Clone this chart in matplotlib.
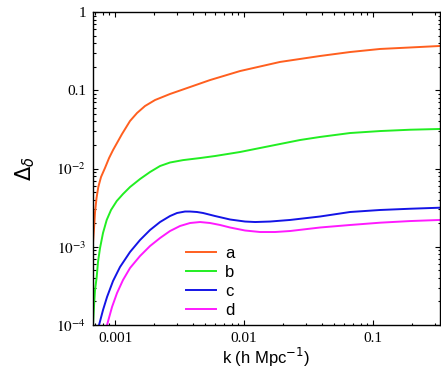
import numpy as np
import matplotlib
matplotlib.use("Agg")
import matplotlib.pyplot as plt
from matplotlib.ticker import FixedLocator, FixedFormatter, LogLocator, NullFormatter

plt.rcParams['mathtext.fontset'] = 'stix'

# k (h/Mpc) and Delta_delta
k_a = [6.75e-4, 6.88e-4, 7.0e-4, 7.19e-4, 7.42e-4, 7.79e-4, 8.37e-4, 8.99e-4, 9.65e-4,
       1.036e-3, 1.133e-3, 1.307e-3, 1.481e-3, 1.708e-3, 2.042e-3, 2.669e-3, 3.815e-3,
       5.45e-3, 9.31e-3, 0.019, 0.0388, 0.0663, 0.1133, 0.1935, 0.33]
d_a = [1.12e-3, 1.74e-3, 2.78e-3, 4.2e-3, 5.8e-3, 7.79e-3, 0.0102, 0.0136, 0.0172,
       0.0212, 0.0276, 0.0405, 0.0512, 0.0629, 0.075, 0.0896, 0.110,
       0.135, 0.176, 0.23, 0.274, 0.308, 0.337, 0.352, 0.368]

k_b = [6.75e-4, 6.88e-4, 7.0e-4, 7.21e-4, 7.38e-4, 7.65e-4, 8.07e-4, 8.62e-4, 9.31e-4,
       1.031e-3, 1.153e-3, 1.307e-3, 1.563e-3, 1.868e-3, 2.233e-3, 2.669e-3, 3.365e-3,
       4.56e-3, 5.96e-3, 9.31e-3, 0.0133, 0.019, 0.02717, 0.0388, 0.0663, 0.1133,
       0.1935, 0.33]
d_b = [1.0e-4, 1.8e-4, 2.8e-4, 4.1e-4, 6.38e-4, 9.6e-4, 1.5e-3, 2.2e-3, 2.95e-3,
       3.84e-3, 4.72e-3, 5.8e-3, 7.34e-3, 9.02e-3, 0.01076, 0.01193, 0.0128,
       0.0136, 0.01444, 0.01625, 0.01828, 0.02056, 0.02313, 0.0253, 0.0284, 0.0301,
       0.0313, 0.0320]

k_c = [7.24e-4, 7.52e-4, 8.07e-4, 8.67e-4, 9.65e-4, 1.093e-3, 1.307e-3, 1.563e-3,
       1.868e-3, 2.233e-3, 2.669e-3, 3.025e-3, 3.488e-3, 3.815e-3, 4.32e-3, 4.81e-3,
       5.96e-3, 7.785e-3, 0.01018, 0.01217, 0.0159, 0.02274, 0.0388, 0.0663, 0.1133,
       0.1935, 0.33]
d_c = [7.9e-5, 1.0e-4, 1.554e-4, 2.28e-4, 3.65e-4, 5.51e-4, 8.57e-4, 1.22e-3,
       1.637e-3, 2.07e-3, 2.47e-3, 2.70e-3, 2.82e-3, 2.82e-3, 2.78e-3, 2.70e-3,
       2.47e-3, 2.23e-3, 2.10e-3, 2.07e-3, 2.10e-3, 2.20e-3, 2.435e-3, 2.78e-3, 2.95e-3,
       3.06e-3, 3.155e-3]

k_d = [8.37e-4, 8.67e-4, 9.48e-4, 1.036e-3, 1.153e-3, 1.307e-3, 1.563e-3, 1.868e-3,
       2.233e-3, 2.669e-3, 3.19e-3, 3.815e-3, 4.56e-3, 5.45e-3, 6.52e-3, 7.785e-3,
       0.01018, 0.0133, 0.01739, 0.02274, 0.0388, 0.0663, 0.1133, 0.1935, 0.33]
d_d = [7.9e-5, 1.0e-4, 1.70e-4, 2.56e-4, 3.76e-4, 5.35e-4, 7.62e-4, 1.022e-3,
       1.293e-3, 1.589e-3, 1.842e-3, 2.011e-3, 2.07e-3, 2.011e-3, 1.897e-3, 1.762e-3,
       1.613e-3, 1.543e-3, 1.543e-3, 1.589e-3, 1.762e-3, 1.897e-3, 2.03e-3, 2.13e-3, 2.20e-3]

labels = ['a', 'b', 'c', 'd']
colors = ['#ff5f1f', '#22ee22', '#1414e6', '#ff1aff']

xticks = [0.001, 0.01, 0.1]
xticklabels = ['0.001', '0.01', '0.1']
yticks = [1e-4, 1e-3, 1e-2, 0.1, 1]
yticklabels = ['$10^{-4}$', '$10^{-3}$', '$10^{-2}$', '0.1', '1']

fig = plt.figure(figsize=(4.41, 3.70), dpi=100)
ax = fig.add_axes([93 / 441, 1 - 325 / 370, 347 / 441, 313 / 370])

for kk, dd, lab, col in zip([k_a, k_b, k_c, k_d], [d_a, d_b, d_c, d_d], labels, colors):
    ax.plot(kk, dd, color=col, lw=1.4, label=lab)

ax.set_xscale('log')
ax.set_yscale('log')
ax.set_xlim(6.75e-4, 0.33)
ax.set_ylim(1e-4, 1)

ax.xaxis.set_major_locator(FixedLocator(xticks))
ax.xaxis.set_major_formatter(FixedFormatter(xticklabels))
ax.yaxis.set_major_locator(FixedLocator(yticks))
ax.yaxis.set_major_formatter(FixedFormatter(yticklabels))
for axis in (ax.xaxis, ax.yaxis):
    axis.set_minor_locator(LogLocator(base=10, subs=np.arange(2, 10), numticks=20))
    axis.set_minor_formatter(NullFormatter())

ax.tick_params(which='both', direction='in', top=True, right=True, width=0.8)
ax.tick_params(which='major', length=3.5, pad=5)
ax.tick_params(which='minor', length=1.8)
for lbl in ax.get_xticklabels() + ax.get_yticklabels():
    lbl.set_fontfamily('Liberation Serif')
    lbl.set_fontsize(11)

for sp in ax.spines.values():
    sp.set_linewidth(1.0)

ax.set_xlabel(r'k (h Mpc$^{-1}$)', family='Liberation Sans', fontsize=12,
              math_fontfamily='dejavusans', labelpad=0.5)
ax.set_ylabel(r'$\Delta_\delta$', fontsize=15, math_fontfamily='dejavusans', labelpad=14)

ax.legend(loc='upper left', bbox_to_anchor=(0.268, 0.252), frameon=False,
          prop={'family': 'Liberation Sans', 'size': 12}, borderpad=0, borderaxespad=0,
          handlelength=1.8, handletextpad=0.55, labelspacing=0.23)

fig.savefig('out.png', dpi=100)
